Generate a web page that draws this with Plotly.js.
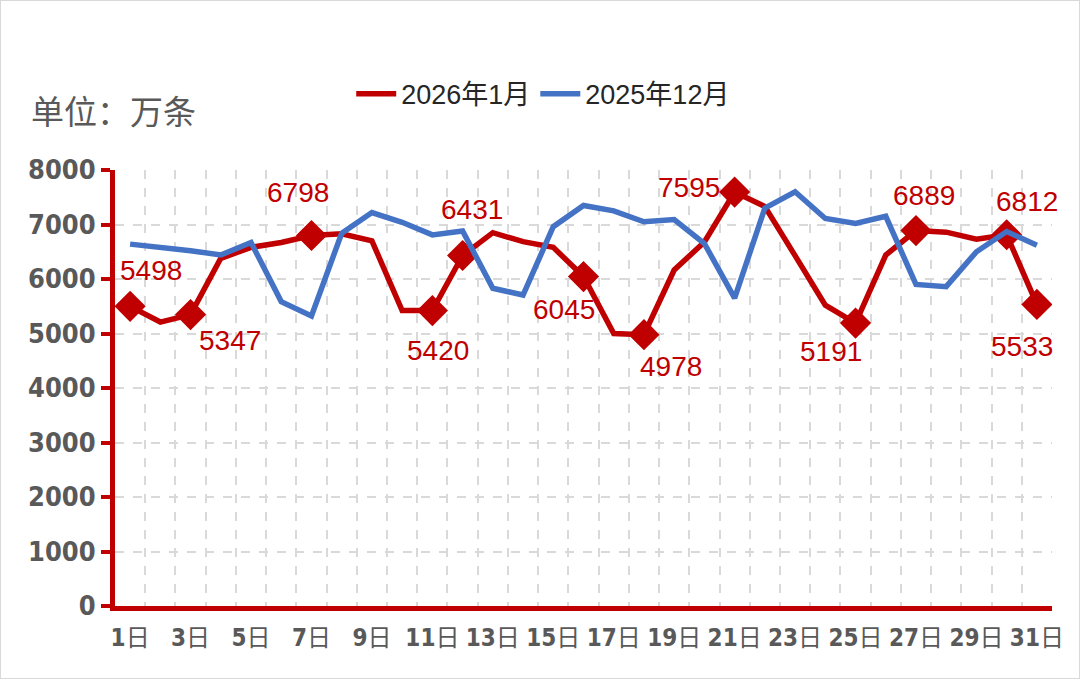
<!DOCTYPE html>
<html>
<head>
<meta charset="utf-8">
<script src="https://cdn.plot.ly/plotly-3.0.1.min.js"></script>
<style>
  body { margin: 0; background: #fff; }
  #chart { width: 1078px; height: 677px; border: 1px solid #d9d9d9; }
</style>
</head>
<body>
<div id="chart"></div>
<script>
// days of the month (x categories)
const days = [1, 2, 3, 4, 5, 6, 7, 8, 9, 10, 11, 12, 13, 14, 15, 16,
  17, 18, 19, 20, 21, 22, 23, 24, 25, 26, 27, 28, 29, 30, 31];

// 2026年1月, 万条
const jan2026 = [5498, 5210, 5347, 6380, 6580, 6670, 6798, 6830, 6700, 5420, 5420,
  6431, 6850, 6685, 6580, 6045, 5000, 4978, 6165, 6680, 7595, 7330, 6430, 5520,
  5191, 6440, 6889, 6860, 6730, 6812, 5533];

// 2025年12月, 万条
const dec2025 = [6640, 6590, 6520, 6440, 6670, 5585, 5320, 6840, 7220, 7040, 6810,
  6880, 5830, 5706, 6960, 7350, 7250, 7050, 7090, 6650, 5650, 7300, 7600, 7110,
  7020, 7150, 5900, 5860, 6500, 6870, 6620];

// days with a diamond marker and data label on the 2026 series
const markedDays = [1, 3, 7, 11, 12, 16, 18, 21, 25, 27, 30, 31];

const tickDays = [1, 3, 5, 7, 9, 11, 13, 15, 17, 19, 21, 23, 25, 27, 29, 31];
const yTicks = [0, 1000, 2000, 3000, 4000, 5000, 6000, 7000, 8000];

const red = '#C00000';
const blue = '#4472C4';
const grey = '#595959';
const numFont = '"Liberation Sans Narrow", "DejaVu Sans Condensed", "Noto Sans CJK SC", sans-serif';

// label offsets in px (x right, y up) for each marked day
const labelShift = [[21, 34], [39, -28], [-13, 41], [6, -42], [9, 44], [-20, -35],
  [27, -34], [-46, 3], [-25, -30], [8, 33], [20, 31], [-15, -44]];

let markY = markedDays.map(d => jan2026[days.indexOf(d)]);

let janLine = {
  x: days, y: jan2026, name: '2026年1月',
  mode: 'lines', line: {color: red, width: 5.5}
};
let janMarks = {
  x: markedDays, y: markY, showlegend: false, hoverinfo: 'skip',
  mode: 'markers', marker: {symbol: 'diamond', size: 24, color: red}
};
let decLine = {
  x: days, y: dec2025, name: '2025年12月',
  mode: 'lines', line: {color: blue, width: 5.5}
};

let labels = markedDays.map((d, i) => ({
  x: d, y: markY[i], xref: 'x', yref: 'y',
  text: String(markY[i]), showarrow: false,
  xanchor: 'center', yanchor: 'middle',
  xshift: labelShift[i][0], yshift: labelShift[i][1] + 2,
  font: {family: '"Liberation Sans", Arial, sans-serif', size: 28, color: red}
}));

labels.push({
  text: '单位：万条', xref: 'paper', yref: 'paper', x: -0.092, y: 1.138,
  xanchor: 'left', yanchor: 'middle', showarrow: false,
  font: {family: '"Noto Sans CJK SC", sans-serif', size: 33, color: grey}
});

let layout = {
  width: 1078, height: 677,
  margin: {l: 114, r: 27, t: 169, b: 72},
  paper_bgcolor: '#fff', plot_bgcolor: '#fff',
  showlegend: true,
  legend: {
    orientation: 'h', x: 0.457, xanchor: 'center', y: 1.174, yanchor: 'middle',
    font: {family: '"Liberation Sans", "Noto Sans CJK SC", sans-serif', size: 27, color: '#262626'},
    itemwidth: 40
  },
  xaxis: {
    range: [0.5, 31.5], fixedrange: true,
    tickmode: 'array', tickvals: tickDays,
    ticktext: tickDays.map(d => '<b>' + d + '</b>日'),
    tickfont: {family: numFont, size: 24, color: grey},
    ticks: '', ticklabelstandoff: 6,
    showgrid: false, zeroline: false,
    showline: true, linecolor: red, linewidth: 5,
    minor: {tickmode: 'linear', tick0: 0.5, dtick: 1, showgrid: true,
      gridcolor: '#d9d9d9', gridwidth: 2, griddash: 'dash'}
  },
  yaxis: {
    range: [0, 8000], fixedrange: true,
    tickmode: 'array', tickvals: yTicks,
    tickfont: {family: numFont, size: 27, color: grey, weight: 'bold'},
    ticks: 'outside', ticklen: 9, tickwidth: 4, tickcolor: red,
    ticklabelstandoff: 0,
    showgrid: true, gridcolor: '#d9d9d9', gridwidth: 2, griddash: 'dash',
    zeroline: false, showline: true, linecolor: red, linewidth: 5
  },
  annotations: labels
};

Plotly.newPlot('chart', [janLine, janMarks, decLine], layout, {staticPlot: true});
</script>
</body>
</html>
